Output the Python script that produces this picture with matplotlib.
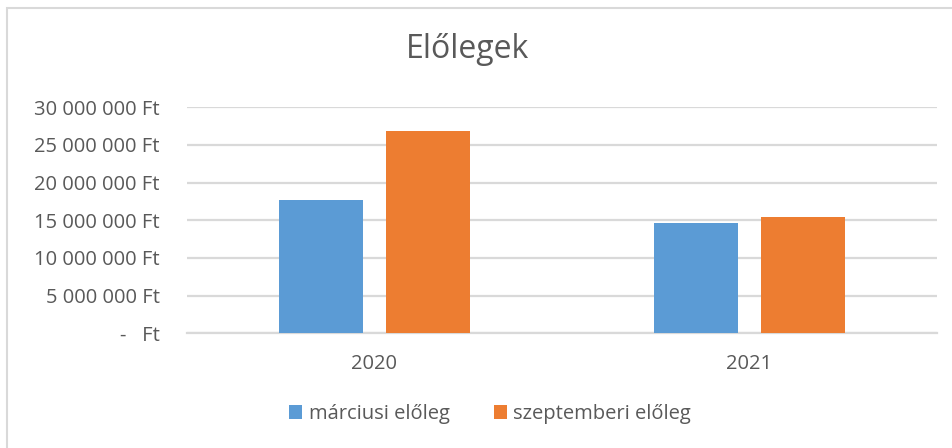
import matplotlib
matplotlib.use("Agg")
import matplotlib.pyplot as plt
import numpy as np
from matplotlib.patches import Rectangle

years = ["2020", "2021"]
series_names = ["márciusi előleg", "szeptemberi előleg"]
marcius = [17_640_000, 14_650_000]
szeptember = [26_870_000, 15_410_000]
yticks = [0, 5_000_000, 10_000_000, 15_000_000, 20_000_000, 25_000_000, 30_000_000]

colors = ["#5B9BD5", "#ED7D31"]
txt = "#595959"
grid = "#D9D9D9"
plt.rcParams['font.family'] = ['Open Sans', 'DejaVu Sans']

fig = plt.figure(figsize=(9.53, 4.48), dpi=100)
W, H = 953, 448
# outer border
fig.patches.append(Rectangle((6.5 / W, -0.1), 1.2, (H - 8.5) / H + 0.1, transform=fig.transFigure,
                             fill=False, edgecolor=grid, linewidth=1.5))

ax = fig.add_axes([187 / W, 1 - 333.3 / H, 750 / W, 226 / H])
x = np.arange(len(years))
bw = 0.224
off = 0.142
ax.bar(x - off, marcius, bw, color=colors[0], label=series_names[0], zorder=3)
ax.bar(x + off, szeptember, bw, color=colors[1], label=series_names[1], zorder=3)

ax.set_xlim(-0.5, 1.5)
ax.set_ylim(0, 30_000_000)
ax.set_yticks(yticks)

def fmt(v):
    if v == 0:
        return "-   Ft"
    return f"{int(v):,}".replace(",", " ") + " Ft"

ax.set_yticklabels([fmt(v) for v in yticks], fontsize=14.5, color=txt)
ax.set_xticks(x)
ax.set_xticklabels(years, fontsize=14.5, color=txt)
ax.tick_params(axis='y', length=0, pad=19.5)
ax.tick_params(axis='x', length=0, pad=15)
ax.yaxis.grid(True, color=grid, linewidth=1.6, zorder=0)
ax.set_axisbelow(True)
for s in ["top", "right", "left"]:
    ax.spines[s].set_visible(False)
ax.spines["bottom"].set_color(grid)
ax.spines["bottom"].set_linewidth(1.6)

fig.text(468 / W, 1 - 49 / H, "Előlegek", ha="center", va="center", fontsize=23, color=txt)

leg = fig.legend(loc="center", bbox_to_anchor=(490 / W, 1 - 414 / H), ncol=2, frameon=False,
                 fontsize=14.5, handlelength=0.65, handleheight=0.65, columnspacing=2.2,
                 handletextpad=0.3, labelcolor=txt)

fig.savefig("out.png", dpi=100)
